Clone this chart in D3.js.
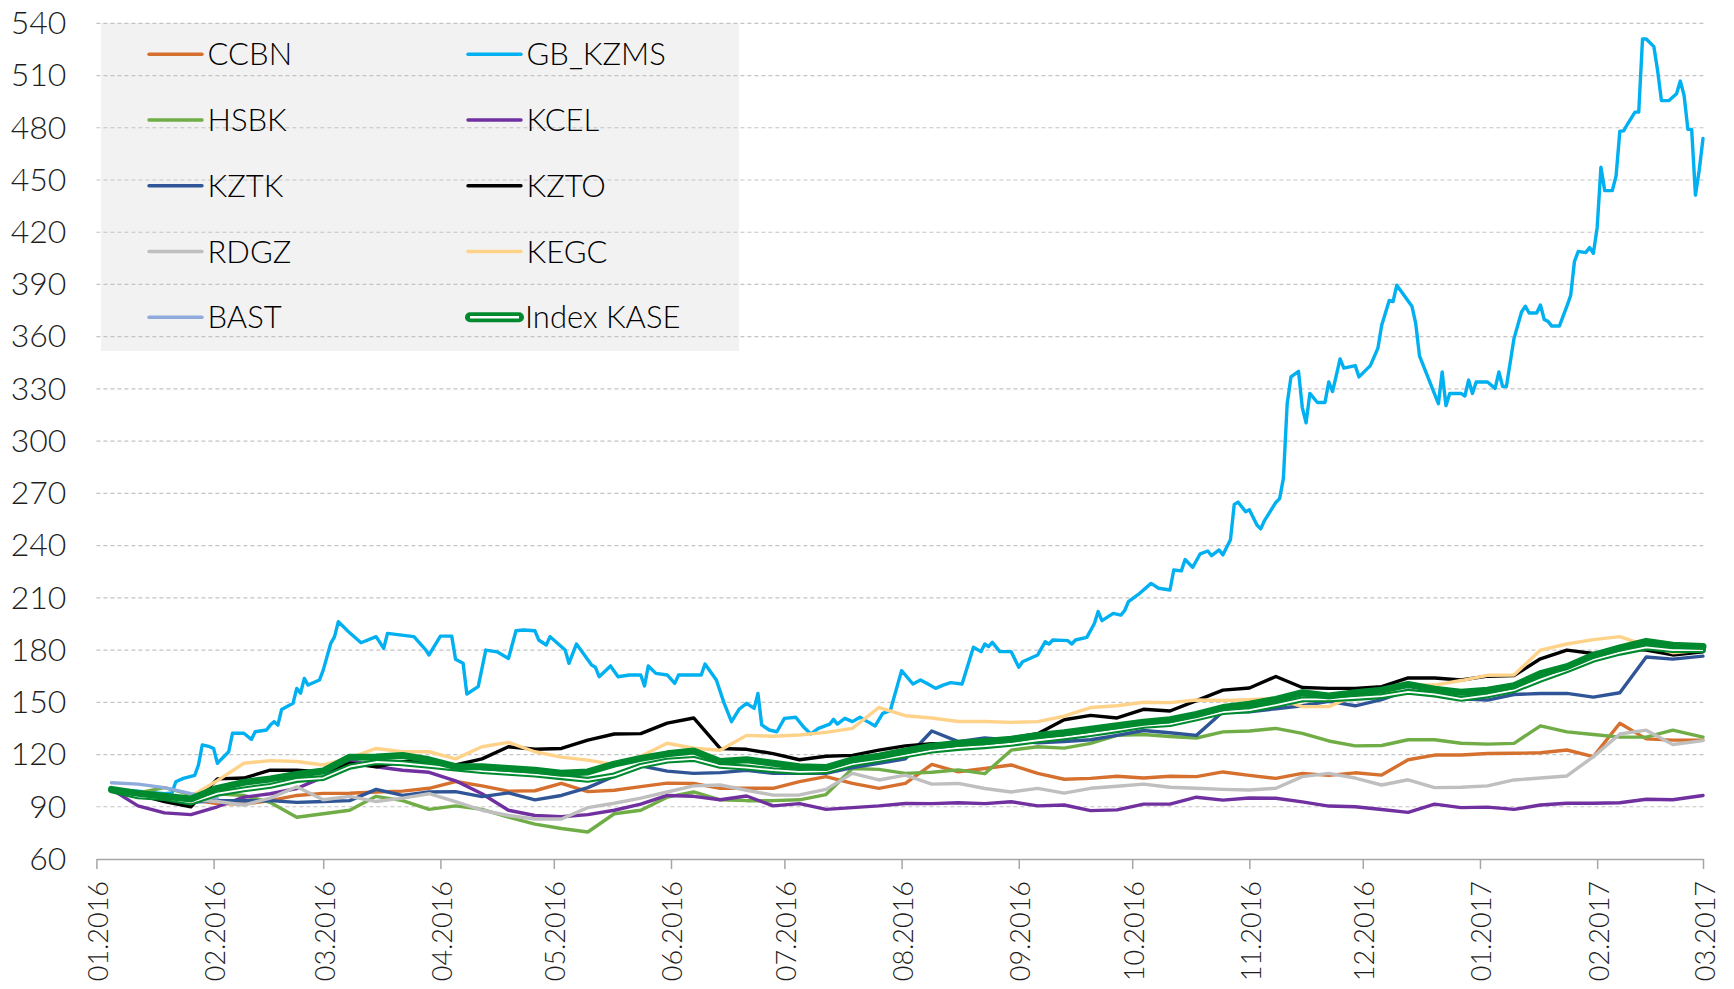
<!DOCTYPE html>
<html>
<head>
<meta charset="utf-8">
<script src="https://d3js.org/d3.v7.min.js"></script>
<style>
  html, body { margin: 0; padding: 0; background: #fff; }
  svg { display: block; }
</style>
</head>
<body>
<div class="chart"></div>
<script>

//////////////////////// DATA ////////////////////////////////////////////

var monthTicks = ['01.2016','02.2016','03.2016','04.2016','05.2016','06.2016','07.2016',
  '08.2016','09.2016','10.2016','11.2016','12.2016','01.2017','02.2017','03.2017'];
var yTicks = [60, 90, 120, 150, 180, 210, 240, 270, 300, 330, 360, 390, 420, 450, 480, 510, 540];

// weekly readings for the low series
var weekDates = ['05.01.16','12.01.16','19.01.16','26.01.16','02.02.16','09.02.16','16.02.16','23.02.16',
  '01.03.16','08.03.16','15.03.16','22.03.16','29.03.16','05.04.16','12.04.16','19.04.16','26.04.16',
  '03.05.16','10.05.16','17.05.16','24.05.16','31.05.16','07.06.16','14.06.16','21.06.16','28.06.16',
  '05.07.16','12.07.16','19.07.16','26.07.16','02.08.16','09.08.16','16.08.16','23.08.16','30.08.16',
  '06.09.16','13.09.16','20.09.16','27.09.16','04.10.16','11.10.16','18.10.16','25.10.16',
  '01.11.16','08.11.16','15.11.16','22.11.16','29.11.16','06.12.16','13.12.16','20.12.16','27.12.16',
  '03.01.17','10.01.17','17.01.17','24.01.17','31.01.17','07.02.17','14.02.17','21.02.17','01.03.17'];

var ccbn = [100, 97, 95, 94, 91.8, 91.5, 93.5, 96.5, 97.7, 97.8, 98.5, 99, 100.6, 104.5, 102, 99, 99.2,
  103.4, 98.7, 99.5, 101.6, 103.6, 103.4, 100.6, 100.6, 100.6, 104.4, 107.3, 103.4, 100.6, 103.4, 114.3,
  110.1, 112, 114, 109.2, 105.8, 106.3, 107.5, 106.5, 107.5, 107.3, 110, 108, 106.3, 109.2, 108, 109.5,
  108.2, 117, 119.7, 119.7, 120.6, 120.7, 121, 122.6, 118.8, 138, 129, 128.3, 128.3];

var hsbk = [100, 98, 101, 97, 97.5, 96.5, 92.5, 84, 86, 88, 96, 93.5, 88.5, 90.5, 88.5, 84, 80, 77.5,
  75.5, 86, 88, 95.5, 98.5, 94, 93.5, 93.5, 94, 97, 112, 111.5, 109.2, 109.8, 111.2, 109, 122.5, 124.5,
  123.7, 126.4, 131, 131.5, 130.4, 129.5, 133, 133.5, 135, 132.2, 127.8, 125, 125.2, 128.5, 128.5, 126.5,
  126, 126.4, 136.5, 133, 131.5, 130, 130, 134, 130];

var kcel = [100, 90.5, 86.5, 85.5, 90, 95.5, 97.5, 100.5, 107, 116.8, 113, 111, 109.8, 104.9, 97.5, 88,
  85, 84.3, 85.5, 88, 91.5, 96.5, 96, 94, 96.2, 90.5, 91.8, 88.5, 89.5, 90.5, 91.9, 91.8, 92.3, 91.8,
  92.9, 90.5, 91, 87.8, 88.2, 91.5, 91.5, 95.5, 93.8, 95, 94.9, 92.8, 90.4, 90, 88.4, 86.8, 91.5, 89.5,
  89.8, 88.5, 91, 92, 92, 92.3, 94.3, 94, 96.5];

var kztk = [100, 97, 94, 92.5, 93.5, 93.5, 93.5, 92.5, 93, 93.5, 100, 96.5, 98.5, 98.7, 95.8, 98, 94,
  96.5, 101, 107.5, 113.5, 110.5, 109.2, 109.6, 110.9, 109.2, 109.2, 109.2, 112.5, 114.9, 117.5, 133.5,
  127.4, 129.5, 128.3, 126.8, 127.5, 128.5, 131, 133.8, 132.5, 131, 144.6, 144.6, 146.3, 148, 150.5,
  148, 151.5, 157, 154.2, 152, 151.3, 154.5, 155.1, 155.1, 153, 155.5, 176, 174.8, 176.5];

var kzto = [100, 97, 93, 90, 106, 106.5, 111, 111, 110, 115, 113, 115.9, 115.9, 114, 117.5, 124.5, 123,
  123.5, 128.3, 131.8, 132, 138, 141, 123.5, 123, 120.5, 117, 119, 119.5, 122.5, 125, 126.2, 126.4,
  127.3, 129.5, 132, 140, 142.5, 141, 146, 145, 151, 157, 158.2, 164.8, 158.5, 158, 158, 159, 164, 164,
  162.8, 165, 165.4, 175, 180, 178, 181, 180, 177.2, 179];

var rdgz = [100, 98, 96, 94, 93, 91, 95, 101.5, 94, 96, 93, 95, 97.5, 93, 88, 85, 83, 83, 89.5, 92, 95,
  98.5, 102, 102.5, 99.5, 96.7, 96.8, 100, 109.2, 105.4, 108.2, 103, 103.4, 100.5, 98.5, 100.6, 97.8,
  100.6, 101.8, 103, 101.2, 100.6, 100, 99.6, 100.6, 107.3, 109.2, 106.5, 102.5, 105.5, 101, 101.2, 102,
  105.4, 106.5, 107.7, 118.8, 131.8, 134, 125.8, 128];

var kegc = [100, 97, 95, 96, 105, 115, 116.5, 116, 114, 118, 123.5, 121.6, 121.6, 117.5, 124.5, 127,
  121.6, 118.5, 116.8, 114.2, 119, 126.5, 123.6, 122.5, 131, 130.5, 131.2, 132.7, 135, 147, 142.3, 141,
  139, 139, 138.5, 138.9, 142, 147, 148, 150, 149.8, 151.3, 151, 151.5, 152.3, 147.5, 147.5, 154, 155.3,
  160, 159.9, 162.5, 165.5, 165.7, 180, 183.5, 186, 187.7, 182.5, 178.5, 180];

var bast = [103.8, 103, 101, 97.5, 95];

var kase = [99.5, 96, 95, 92.5, 97.5, 100, 102, 105.4, 106.5, 113, 115.7, 115, 113.5, 112, 110.5, 109.5,
  108.5, 107, 105.5, 108, 113.5, 116.5, 117.5, 113.5, 112.5, 111, 110, 110.5, 114.5, 117, 119.5, 122.3,
  123.8, 124.8, 126.2, 128.2, 129.8, 131.8, 134, 136.5, 137.5, 140.8, 144.4, 145.5, 148.4, 151.7, 151.7,
  152.5, 153.5, 156, 154.5, 152, 154, 157, 163, 168.5, 174.5, 178.5, 181.5, 180, 180];

// second, heavier KASE line (no legend entry)
var kaseBold = [100, 97.7, 96, 94.5, 100.6, 104, 106, 108.5, 110.5, 118.5, 118.6, 119.4, 117, 113, 113,
  112, 111, 109.3, 110, 114.5, 117.8, 120.4, 122, 116, 117, 115, 113, 112.5, 117, 119, 122, 124.8, 126.5,
  127.5, 128.8, 131, 132.5, 134.5, 136.5, 138.5, 140, 143, 147, 148.9, 151.7, 155.5, 153.6, 155.5, 157,
  160.2, 157.5, 155.8, 157, 159.5, 166.5, 170.5, 177, 181.2, 185, 182.8, 182];

// GB_KZMS moves a lot more, so it is read point by point
var gbKzms = [
  ['05.01.16',100],['12.01.16',99],['19.01.16',97.5],['21.01.16',98],['22.01.16',104.4],['24.01.16',106.3],
  ['27.01.16',108],['28.01.16',114],['29.01.16',125.5],['31.01.16',124.5],
  ['01.02.16',123.5],['02.02.16',115],['05.02.16',121.6],['06.02.16',132.2],['09.02.16',132.2],['11.02.16',128.7],
  ['12.02.16',133.1],['15.02.16',134.1],['16.02.16',136.9],['17.02.16',138.9],['18.02.16',136.9],['19.02.16',145.9],
  ['22.02.16',149.4],['23.02.16',158],['24.02.16',155.2],['25.02.16',163.7],['26.02.16',159.9],['29.02.16',162.8],
  ['01.03.16',168.5],['03.03.16',183.9],['04.03.16',187.7],['05.03.16',196.3],['08.03.16',189.9],['11.03.16',184.2],
  ['15.03.16',187.7],['17.03.16',181],['18.03.16',189.6],['25.03.16',187.7],['28.03.16',180.4],['29.03.16',177.2],
  ['01.04.16',188],['04.04.16',188],['05.04.16',174.7],['07.04.16',172.4],['08.04.16',154.8],['11.04.16',159],
  ['13.04.16',180],['16.04.16',179],['19.04.16',175.2],['21.04.16',191.1],['23.04.16',191.5],['26.04.16',191.1],
  ['27.04.16',185.8],['29.04.16',182.9],['30.04.16',187.7],
  ['01.05.16',185.8],['04.05.16',180],['05.05.16',172.4],['07.05.16',183.5],['11.05.16',171.4],['12.05.16',170.1],
  ['13.05.16',164.7],['16.05.16',170.9],['18.05.16',164.7],['21.05.16',165.7],['24.05.16',165.7],['25.05.16',159.4],
  ['26.05.16',170.9],['28.05.16',166.6],['31.05.16',165.7],
  ['02.06.16',160.9],['03.06.16',165.7],['09.06.16',165.7],['10.06.16',172],['13.06.16',162.8],['15.06.16',149.8],
  ['17.06.16',138.9],['19.06.16',146],['21.06.16',149.4],['23.06.16',146.5],['24.06.16',155.1],['25.06.16',137],
  ['27.06.16',134.1],['29.06.16',133.1],
  ['01.07.16',140.8],['04.07.16',141.4],['06.07.16',136],['08.07.16',131.8],['10.07.16',135],['13.07.16',137.5],
  ['14.07.16',140.2],['15.07.16',137.5],['17.07.16',140.8],['19.07.16',138.9],['21.07.16',141.4],['23.07.16',138.9],
  ['25.07.16',136.4],['27.07.16',143.7],['29.07.16',145.2],
  ['01.08.16',168.2],['04.08.16',160.5],['06.08.16',162.8],['08.08.16',160.5],['10.08.16',158],['12.08.16',159.9],
  ['14.08.16',161.3],['17.08.16',160.5],['20.08.16',181.6],['22.08.16',179.1],['23.08.16',183.5],['24.08.16',182],
  ['25.08.16',184.4],['27.08.16',179.1],['30.08.16',179.1],
  ['01.09.16',170.1],['02.09.16',173.3],['06.09.16',177.2],['08.09.16',184.8],['09.09.16',183.5],['10.09.16',185.8],
  ['14.09.16',185.4],['15.09.16',183.5],['16.09.16',185.8],['19.09.16',187.3],['21.09.16',195.3],['22.09.16',202.1],
  ['23.09.16',196.9],['26.09.16',201.1],['28.09.16',200.1],['29.09.16',202.6],['30.09.16',207.8],
  ['03.10.16',212.6],['06.10.16',218.3],['08.10.16',215.5],['11.10.16',214.5],['12.10.16',226],['14.10.16',225.5],
  ['15.10.16',232],['17.10.16',227.5],['19.10.16',235.3],['21.10.16',236.9],['22.10.16',234.2],['24.10.16',237.5],
  ['25.10.16',234.7],['27.10.16',243.4],['28.10.16',263.7],['29.10.16',265],['31.10.16',259.5],
  ['01.11.16',260.6],['03.11.16',251.8],['04.11.16',249.6],['05.11.16',254.4],['08.11.16',264.8],['09.11.16',267],
  ['10.11.16',278.6],['11.11.16',321.5],['12.11.16',336.9],['14.11.16',340.1],['15.11.16',319.3],['16.11.16',310.5],
  ['17.11.16',327.4],['19.11.16',322.2],['21.11.16',322.2],['22.11.16',334],['23.11.16',328.5],['25.11.16',347.2],
  ['26.11.16',341.9],['29.11.16',343.4],['30.11.16',336.9],
  ['03.12.16',343.4],['05.12.16',353.4],['06.12.16',366.6],['08.12.16',380.8],['09.12.16',380.2],['10.12.16',389.6],
  ['14.12.16',377.5],['15.12.16',367.7],['16.12.16',349],['21.12.16',321.5],['22.12.16',339.7],['23.12.16',320.4],
  ['24.12.16',327.4],['27.12.16',327.4],['28.12.16',325.9],['29.12.16',335.1],['30.12.16',327.4],['31.12.16',334],
  ['03.01.17',334],['05.01.17',330.3],['06.01.17',339.7],['07.01.17',331.4],['08.01.17',331.4],['10.01.17',358.9],
  ['12.01.17',374.2],['13.01.17',377.5],['14.01.17',373.6],['16.01.17',373.6],['17.01.17',378.2],['18.01.17',369.9],
  ['19.01.17',368.8],['20.01.17',366.1],['22.01.17',366.1],['24.01.17',377.5],['25.01.17',383.7],['26.01.17',403.3],
  ['27.01.17',409],['29.01.17',408.3],['30.01.17',411.2],['31.01.17',407.9],
  ['01.02.17',422.6],['02.02.17',457.3],['03.02.17',443.9],['05.02.17',443.9],['06.02.17',452.3],['07.02.17',478],
  ['08.02.17',478.2],['09.02.17',482],['11.02.17',489],['12.02.17',489],['13.02.17',531],['14.02.17',531],
  ['16.02.17',526.6],['17.02.17',512.7],['18.02.17',495.6],['20.02.17',495.6],['22.02.17',499.6],['23.02.17',506.8],
  ['24.02.17',498.5],['25.02.17',479.1],['26.02.17',479.1],['27.02.17',441.3],['28.02.17',455.6],['01.03.17',473.8]
];

//////////////////////// CHART /////////////////////////////////////////////

var parseDate = d3.timeParse('%d.%m.%y');
var parseMonth = d3.timeParse('%m.%Y');

function weekly(values) {
  return values.map((v, i) => ({ date: parseDate(weekDates[i]), value: v }));
}

var green = '#008a2f';
var series = [
  { name: 'CCBN',     color: '#d6702e', data: weekly(ccbn) },
  { name: 'GB_KZMS',  color: '#00b0f0', data: gbKzms.map(d => ({ date: parseDate(d[0]), value: d[1] })) },
  { name: 'HSBK',     color: '#70ad47', data: weekly(hsbk) },
  { name: 'KCEL',     color: '#7030a0', data: weekly(kcel) },
  { name: 'KZTK',     color: '#2f5597', data: weekly(kztk) },
  { name: 'KZTO',     color: '#000000', data: weekly(kzto) },
  { name: 'RDGZ',     color: '#bfbfbf', data: weekly(rdgz) },
  { name: 'KEGC',     color: '#ffd28a', data: weekly(kegc) },
  { name: 'BAST',     color: '#8faadc', data: weekly(bast) },
  { name: 'Index KASE', color: green, double: true, data: weekly(kase) },
  { name: null,       color: green, bold: true, data: weekly(kaseBold) }
];

var margin = { top: 23.3, left: 96.4 };
var width = 1606.6;
var height = 835.7;

var svg = d3.select('.chart')
  .append('svg')
  .attr('width', 1734)
  .attr('height', 989);

// legend background goes under the grid lines
svg.append('rect')
  .attr('x', 101).attr('y', 23)
  .attr('width', 638).attr('height', 328)
  .style('fill', '#f2f2f2');

var g = svg.append('g')
  .attr('transform', 'translate(' + margin.left + ',' + margin.top + ')');

var xScale = d3.scaleTime()
  .domain([new Date(2016, 0, 1), new Date(2017, 2, 1)])
  .range([0, width]);

var yScale = d3.scaleLinear()
  .domain([60, 540])
  .range([height, 0]);

// grid
g.selectAll('.grid')
  .data(yTicks.slice(1))
  .enter()
  .append('line')
  .attr('class', 'grid')
  .attr('x1', 0)
  .attr('x2', width + 2)
  .attr('y1', d => yScale(d))
  .attr('y2', d => yScale(d))
  .style('stroke', '#c4c4c4')
  .style('stroke-width', 1.2)
  .style('stroke-dasharray', '4,3');

// x axis
var xAxis = g.append('g')
  .attr('transform', 'translate(0,' + height + ')')
  .call(d3.axisBottom(xScale)
    .tickValues(monthTicks.map(parseMonth))
    .tickSize(10)
    .tickSizeOuter(0)
    .tickFormat(d3.timeFormat('%m.%Y')));

xAxis.select('.domain').style('stroke', '#a6a6a6').style('stroke-width', 1.5);
xAxis.selectAll('.tick line').style('stroke', '#a6a6a6').style('stroke-width', 1.5);
xAxis.selectAll('text')
  .attr('transform', 'rotate(-90)')
  .attr('x', -22)
  .attr('y', 11)
  .attr('dy', 0)
  .style('text-anchor', 'end')
  .style('font-family', 'Lato, sans-serif')
  .style('font-weight', 300)
  .style('font-size', '27px')
  .style('fill', '#1e1e1e');

// y labels
var yAxis = g.append('g')
  .call(d3.axisLeft(yScale).tickValues(yTicks).tickSize(0).tickPadding(30));
yAxis.select('.domain').remove();
yAxis.selectAll('text')
  .style('font-family', 'Lato, sans-serif')
  .style('font-weight', 300)
  .style('font-size', '32px')
  .style('fill', '#1e1e1e');

// lines
var line = d3.line()
  .x(d => xScale(d.date))
  .y(d => yScale(d.value));

series.forEach(s => {
  var w = s.bold ? 7 : (s.double ? 6 : 3.4);
  g.append('path')
    .attr('d', line(s.data))
    .style('fill', 'none')
    .style('stroke', s.color)
    .style('stroke-width', w)
    .style('stroke-linejoin', 'round')
    .style('stroke-linecap', 'round');
  if (s.double) {
    g.append('path')
      .attr('d', line(s.data))
      .style('fill', 'none')
      .style('stroke', '#fff')
      .style('stroke-width', 1.8)
      .style('stroke-linejoin', 'round');
  }
});

// legend
var legendItems = series.filter(s => s.name);
var legend = svg.selectAll('.legend')
  .data(legendItems)
  .enter()
  .append('g')
  .attr('class', 'legend')
  .attr('transform', (d, i) => 'translate(' + (i % 2 ? 467 : 148) + ',' + (54.3 + Math.floor(i / 2) * 65.75) + ')');

legend.append('line')
  .attr('x1', d => d.double ? 3 : 1)
  .attr('x2', d => d.double ? 52 : 54)
  .style('stroke', d => d.color)
  .style('stroke-width', d => d.double ? 10 : 3.4)
  .style('stroke-linecap', 'round');

legend.filter(d => d.double)
  .append('line')
  .attr('x1', 3).attr('x2', 52)
  .style('stroke', '#fff')
  .style('stroke-width', 2.4);

legend.append('text')
  .attr('x', d => d.double ? 58 : 59.5)
  .attr('y', 11)
  .style('font-family', 'Lato, sans-serif')
  .style('font-weight', 300)
  .style('font-size', '31px')
  .style('fill', '#000')
  .text(d => d.name);

</script>
</body>
</html>
